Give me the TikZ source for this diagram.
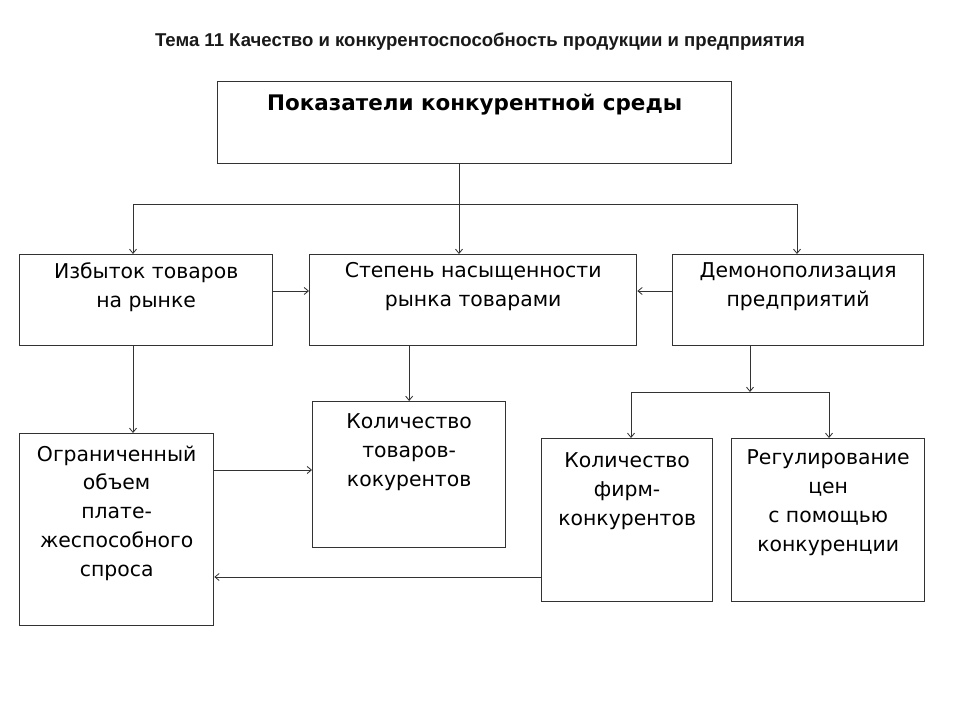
\documentclass[tikz,border=0pt]{standalone}
\usepackage{fontspec}
\setmainfont{DejaVu Sans}
\newfontfamily\titlefont{Liberation Sans}
\usetikzlibrary{positioning, arrows.meta, calc}

\begin{document}
\begin{tikzpicture}[
  x=0.025cm, y=-0.025cm,
  blk/.style={
    draw=black!80, line width=0.9pt, anchor=north west,
    minimum height=2.275cm, inner sep=0pt
  },
  intxt/.style={
    anchor=north, yshift=-6pt, inner sep=0pt,
    align=center, font=\fontsize{14.5}{20.5}\selectfont, text=black
  },
  lowtxt/.style={intxt, yshift=-2.8pt},
  headtxt/.style={
    anchor=north, yshift=-9.4pt, inner sep=0pt,
    font=\fontsize{15.25}{18}\selectfont\bfseries, text=black
  },
  ttl/.style={font=\titlefont\fontsize{13.2}{16}\selectfont\bfseries, text=black!90},
  arr/.style={-{Straight Barb[length=3pt, width=5pt]}, line width=0.6pt, color=black!80},
  ln/.style={line width=0.6pt, color=black!80},
]
\useasboundingbox (0,0) rectangle (960,720);

% ===== Title =====
\node[ttl] (title) at (480,42) {Тема 11 Качество и конкурентоспособность продукции и предприятия};

% ===== Boxes =====
\node[blk, minimum width=12.85cm, minimum height=2.05cm,
      label={[headtxt]north:Показатели конкурентной среды}] (pok) at (217,81) {};

\node[blk, minimum width=6.325cm,
      label={[intxt]north:{Избыток товаров\\на рынке}}] (izb) at (19,254) {};
\node[blk, minimum width=8.175cm,
      label={[intxt]north:{Степень насыщенности\\рынка товарами}}] (nas) at (309,254) {};
\node[blk, minimum width=6.275cm,
      label={[intxt]north:{Демонополизация\\предприятий}}] (dem) at (672,254) {};

\node[blk, minimum width=4.85cm, minimum height=4.8cm,
      label={[lowtxt]north:{Ограниченный\\объем\\плате-\\жеспособного\\спроса}}] (ogr) at (19,433) {};
\node[blk, minimum width=4.825cm, minimum height=3.65cm,
      label={[lowtxt]north:{Количество\\товаров-\\кокурентов}}] (kolt) at (312,401) {};
\node[blk, minimum width=4.275cm, minimum height=4.075cm,
      label={[lowtxt, yshift=-1.4pt]north:{Количество\\фирм-\\конкурентов}}] (kolf) at (541,438) {};
\node[blk, minimum width=4.825cm, minimum height=4.075cm,
      label={[intxt, yshift=-2.1pt]north:{Регулирование\\цен\\с помощью\\конкуренции}}] (reg) at (731,438) {};

% ===== Junctions =====
\coordinate (hub) at (459,204);
\coordinate (hubL) at (133,204);
\coordinate (hubR) at (797,204);
\coordinate (hubD) at (750,392);
\coordinate (hubDL) at (631,392);
\coordinate (hubDR) at (829,392);
\coordinate (ya) at (0,291);
\coordinate (yd) at (0,470);
\coordinate (yf) at (0,577);

% ===== Connectors =====
\draw[ln] (pok.south -| hub) -- (hub);
\draw[ln] (hubL) -- (hubR);
\draw[arr] (hub) -- (hub |- nas.north);
\draw[arr] (hubL) -- (hubL |- izb.north);
\draw[arr] (hubR) -- (hubR |- dem.north);

\draw[arr] (izb.east |- ya) -- (nas.west |- ya);
\draw[arr] (dem.west |- ya) -- (nas.east |- ya);

\draw[arr] (hubL |- izb.south) -- (hubL |- ogr.north);
\draw[arr] (kolt.north |- nas.south) -- (kolt.north);
\draw[arr] (hubD |- dem.south) -- (hubD);
\draw[ln] (hubDL) -- (hubDR);
\draw[arr] (hubDL) -- (hubDL |- kolf.north);
\draw[arr] (hubDR) -- (hubDR |- reg.north);

\draw[arr] (ogr.east |- yd) -- (kolt.west |- yd);
\draw[arr] (kolf.west |- yf) -- (ogr.east |- yf);

\end{tikzpicture}
\end{document}
